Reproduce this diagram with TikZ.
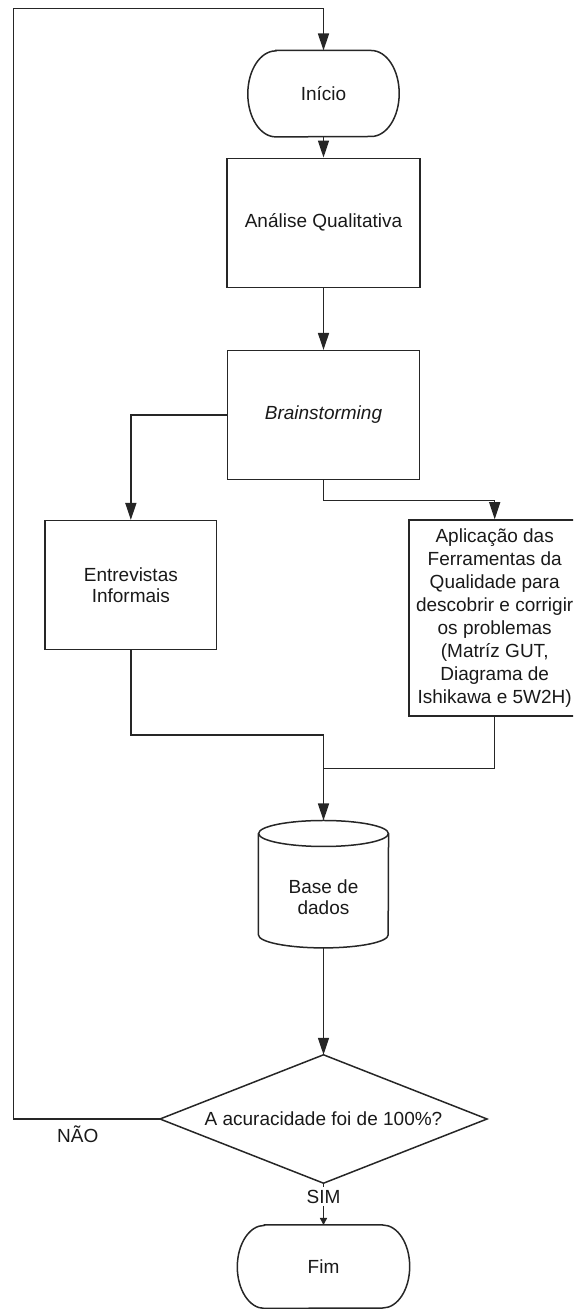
\documentclass[tikz,border=0pt]{standalone}
\usepackage{fontspec}
\setmainfont{Liberation Sans}
\usetikzlibrary{arrows.meta,calc}
\begin{document}
\begin{tikzpicture}[x=1pt,y=1pt,
  conn/.style={line width=1.5pt, draw=black!85},
  arr/.style={conn, -{Triangle[length=17pt,width=11pt]}},
  smallarr/.style={conn, -{Triangle[length=7pt,width=7pt]}},
  procbox/.style={draw=black!85, line width=1.5pt, inner sep=0pt, align=center},
  ghost/.style={inner sep=0pt, align=center},
  every node/.style={font=\fontsize{19}{21}\selectfont, text=black!90}]
\useasboundingbox (0,0) rectangle (573,1309);
\clip (0,0) rectangle (573,1309);

% Inicio (terminator)
\node[ghost, minimum width=151pt, minimum height=86pt] (inicio) at (323.5,1215.3) {Início};
\draw[conn] ($(inicio.north west)+(28,0)$) -- ($(inicio.north east)+(-28,0)$)
  arc[start angle=90,end angle=-90,x radius=28,y radius=43]
  -- ($(inicio.south west)+(28,0)$)
  arc[start angle=270,end angle=90,x radius=28,y radius=43] -- cycle;

% Process boxes
\node[procbox, minimum width=192.6pt, minimum height=129pt] (analise) at (323.5,1086.2) {Análise Qualitativa};
\node[procbox, minimum width=192.3pt, minimum height=128.6pt] (brain) at (323.5,894) {\itshape Brainstorming};
\node[procbox, minimum width=171.7pt, minimum height=128.6pt] (entrev) at (130.85,724) {Entrevistas\\Informais};
\node[procbox, minimum width=171.4pt, minimum height=196pt, font=\fontsize{19}{22.9}\selectfont] (aplic) at (494.7,691)
  {Aplicação das\\Ferramentas da\\Qualidade para\\descobrir e corrigir\\os problemas\\(Matríz GUT,\\Diagrama de\\Ishikawa e 5W2H)};

% Database (cylinder)
\node[ghost, minimum width=129.7pt, minimum height=101pt] (cyl) at (323.5,411.8) {Base de\\dados};
\draw[conn] ($(cyl.north west)+(0,13)$) -- ($(cyl.south west)+(0,13)$)
  arc[start angle=180,end angle=360,x radius=64.85,y radius=13]
  -- ($(cyl.north east)+(0,13)$);
\draw[conn] ($(cyl.north)+(0,13)$) ellipse[x radius=64.85,y radius=13];
\coordinate (cyltop) at ($(cyl.north)+(0,26)$);

% Decision
\node[ghost, minimum width=326.6pt, minimum height=128pt] (dec) at (323.5,190) {A acuracidade foi de 100\%?};
\draw[conn] (dec.north) -- (dec.east) -- (dec.south) -- (dec.west) -- cycle;

% Fim (terminator)
\node[ghost, minimum width=172pt, minimum height=83pt] (fim) at (323.5,42.3) {Fim};
\draw[conn] ($(fim.north west)+(27,0)$) -- ($(fim.north east)+(-27,0)$)
  arc[start angle=90,end angle=-90,x radius=27,y radius=41.5]
  -- ($(fim.south west)+(27,0)$)
  arc[start angle=270,end angle=90,x radius=27,y radius=41.5] -- cycle;

% Connectors
\coordinate (lt) at (13.3,1300.7);
\draw[arr] (dec.west) -| (lt) -| (inicio.north);
\node (nao) at (77.7,175) {NÃO};
\draw[arr] (inicio.south) -- (analise.north);
\draw[arr] (analise.south) -- (brain.north);
\draw[arr] (brain.west) -| (entrev.north);
\draw[arr] (brain.south) -- ++(0,-20.7) -| (aplic.north);
\coordinate (mrgA) at (323.5,574);
\coordinate (mrgB) at (323.5,540.7);
\draw[conn] (entrev.south) |- (mrgA);
\draw[conn] (aplic.south) |- (mrgB);
\draw[arr] (mrgA) -- (cyltop);
\draw[arr] (cyl.south) -- (dec.north);
\draw[smallarr] (dec.south) -- (fim.north);
\node[fill=white, inner sep=3pt] (sim) at (323.5,112.3) {SIM};
\end{tikzpicture}
\end{document}
